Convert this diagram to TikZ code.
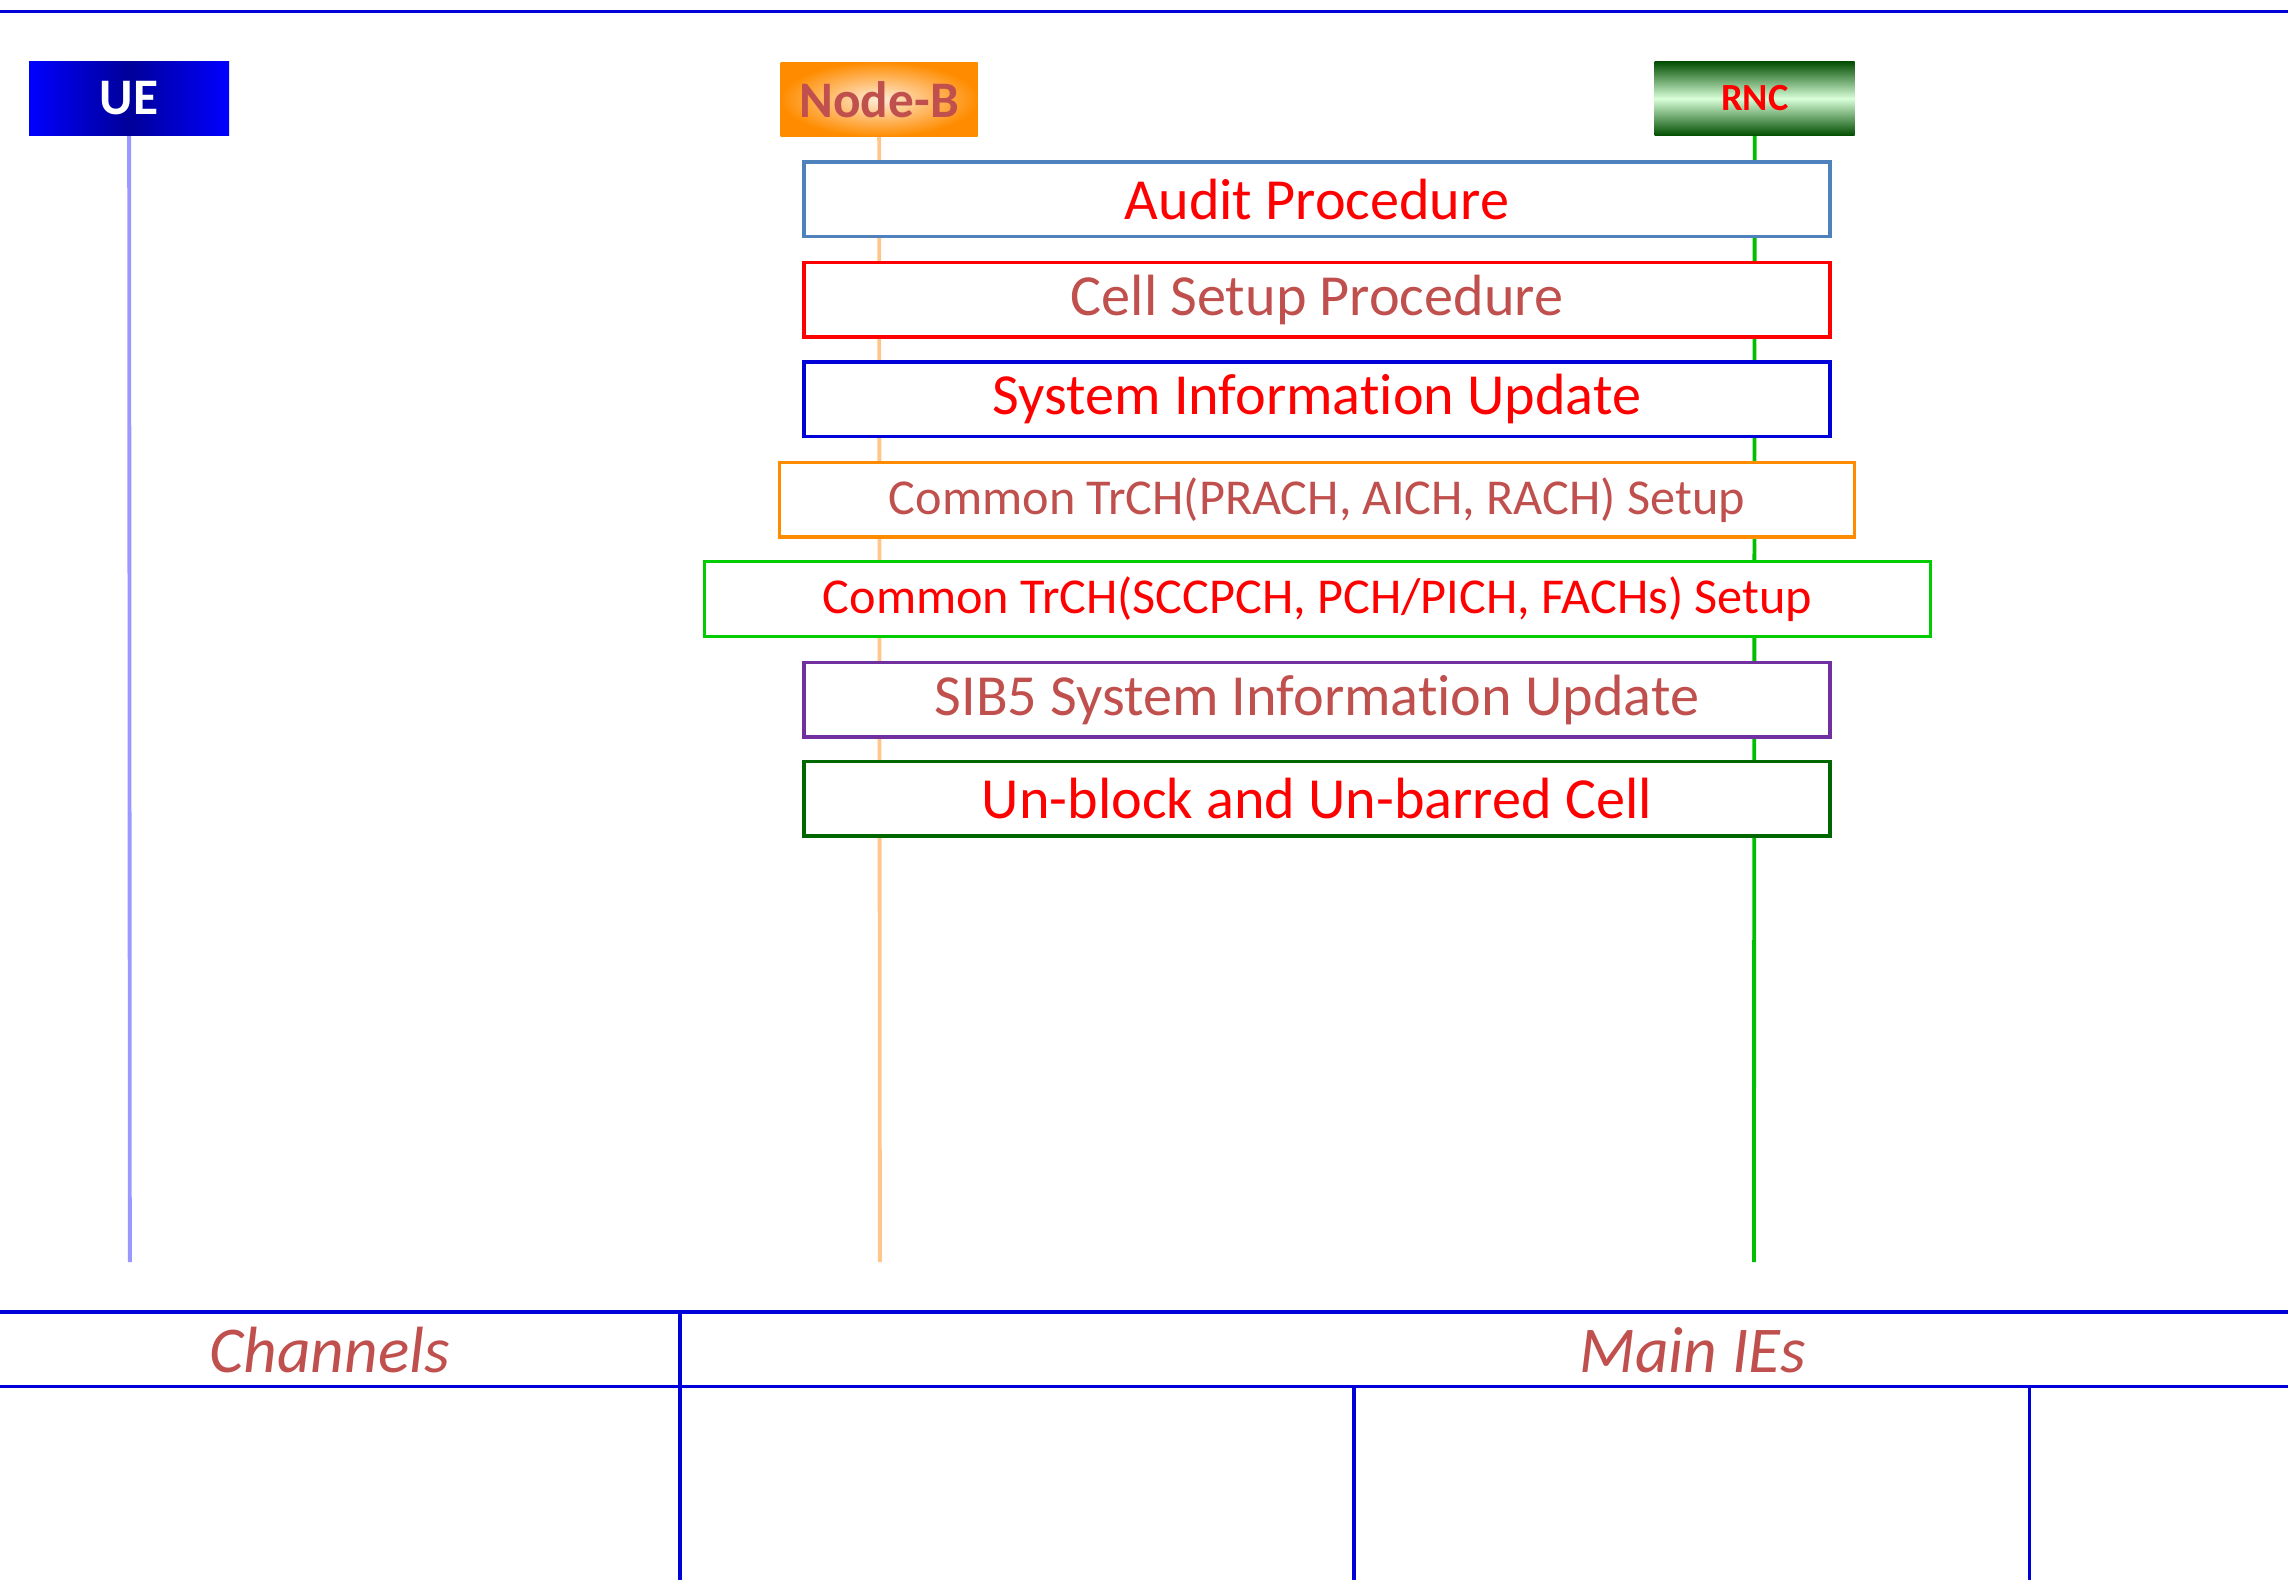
\documentclass[tikz,border=0pt]{standalone}
\usepackage{fontspec}
\setmainfont[Ligatures={NoCommon,TeX}]{Carlito}
\begin{document}
\begin{tikzpicture}[x=0.02cm,y=-0.02cm,
  hdr/.style={draw=none,minimum width=137*0.02cm,minimum height=51*0.02cm,font=\bfseries\fontsize{20}{22}\selectfont},
  proc/.style={draw,line width=1.3pt,fill=white,minimum height=51*0.02cm,inner sep=0pt},
  big/.style={font=\fontsize{22.7}{25}\selectfont},
  small/.style={font=\fontsize{19.6}{22}\selectfont},
  life/.style={line width=1.5pt},
  tbl/.style={draw=blue!85!black,line width=1.3pt}]
\definecolor{brick}{HTML}{C0504D}
\useasboundingbox (0,0) rectangle (1568,1083);
\draw[tbl] (0,8) -- (1568,8);
% headers
\node[hdr,left color=blue,right color=blue,middle color=blue!60!black,text=white] (ue) at (88.5,67.5) {UE};
\node[hdr,inner color=orange!15,outer color=orange!90!yellow,text=brick,minimum width=135*0.02cm] (nb) at (602.5,68) {Node-B};
\node[hdr,top color=green!30!black,bottom color=green!30!black,middle color=green!15,text=red,font=\bfseries\fontsize{15}{17}\selectfont] (rnc) at (1202.5,67.5) {RNC};
\coordinate (ueE) at (89,865);
\coordinate (nbE) at (603,865);
\coordinate (rncE) at (1202,865);
\draw[life,draw=blue!40] (ue.south) -- (ueE);
\draw[life,draw=orange!45] (nb.south) -- (nbE);
\draw[life,draw=green!75!black] (rnc.south) -- (rncE);
% procedures
\node[proc,big,draw={rgb,255:red,79;green,129;blue,189},minimum width=703*0.02cm,text=red] (p1) at (902.5,136.5) {Audit Procedure};
\node[proc,big,draw=red,minimum width=703*0.02cm,text=brick] (p2) at (902.5,205.5) {Cell Setup Procedure};
\node[proc,big,draw=blue!85!black,minimum width=703*0.02cm,text=red] (p3) at (902.5,273.5) {System Information Update};
\node[proc,small,draw=orange!90!yellow,minimum width=737*0.02cm,text=brick] (p4) at (902.5,342.5) {Common TrCH(PRACH, AICH, RACH) Setup};
\node[proc,small,draw=green!80!black,minimum width=840*0.02cm,text=red] (p5) at (903,410.5) {Common TrCH(SCCPCH, PCH/PICH, FACHs) Setup};
\node[proc,big,draw={rgb,255:red,112;green,48;blue,160},minimum width=703*0.02cm,text=brick] (p6) at (902.5,479.5) {SIB5 System Information Update};
\node[proc,big,draw=green!40!black,minimum width=703*0.02cm,text=red] (p7) at (902.5,547.5) {Un-block and Un-barred Cell};
% table
\draw[tbl] (0,899) -- (1568,899);
\draw[tbl] (0,950) -- (1568,950);
\draw[tbl] (466,899) -- (466,1083);
\draw[tbl] (928,950) -- (928,1083);
\draw[tbl] (1391,950) -- (1391,1083);
\node[text=brick,font=\itshape\fontsize{25.5}{28}\selectfont] (ch) at (226,925) {Channels};
\node[text=brick,font=\itshape\fontsize{25.5}{28}\selectfont] (ie) at (1160,925) {Main IEs};
\end{tikzpicture}
\end{document}
